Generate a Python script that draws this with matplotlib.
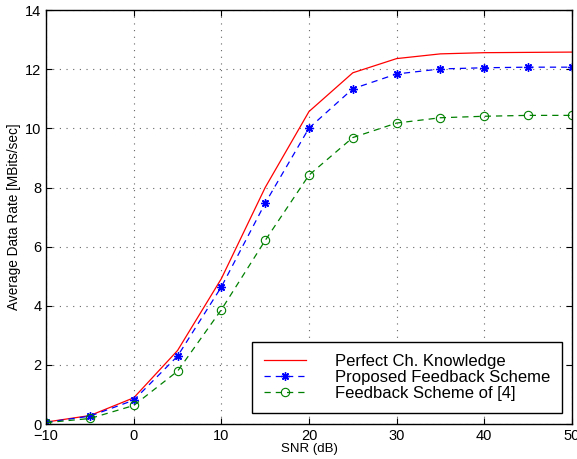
import matplotlib
matplotlib.use("Agg")
import matplotlib.pyplot as plt

plt.rcParams["font.family"] = ["Liberation Sans", "DejaVu Sans"]

# data
snr = [-10, -5, 0, 5, 10, 15, 20, 25, 30, 35, 40, 45, 50]
perfect = [0.07, 0.29, 0.89, 2.49, 4.92, 8.0, 10.57, 11.88, 12.36, 12.52, 12.56, 12.57, 12.58]
proposed = [0.06, 0.27, 0.81, 2.30, 4.64, 7.47, 10.01, 11.34, 11.84, 12.01, 12.05, 12.07, 12.07]
scheme4 = [0.05, 0.19, 0.63, 1.79, 3.87, 6.21, 8.42, 9.69, 10.18, 10.36, 10.41, 10.44, 10.44]
labels = ["Perfect Ch. Knowledge", "Proposed Feedback Scheme", "Feedback Scheme of [4]"]

fig = plt.figure(figsize=(5.77, 4.59), dpi=100)
ax = fig.add_axes([0.08, 0.076, 0.911, 0.902])

ax.plot(snr, perfect, c="#ff0000", linestyle="-", linewidth=0.9, label=labels[0])
ax.plot(snr, proposed, c="#0000ff", linestyle=(0, (5, 4)), linewidth=0.9,
        marker=(8, 2, 0), markersize=6, markeredgewidth=1.0, label=labels[1])
ax.plot(snr, scheme4, c="#008000", linestyle=(0, (5, 4)), linewidth=0.9,
        marker="o", markersize=6, markerfacecolor="none", markeredgewidth=0.8,
        label=labels[2])

ax.set_xlim(-10, 50)
ax.set_ylim(0, 14)
ax.set_xticks(range(-10, 51, 10))
ax.set_yticks(range(0, 15, 2))
ax.set_xticklabels(["\u221210", "0", "10", "20", "30", "40", "50"])
ax.tick_params(direction="in", top=True, right=True, labelsize=10.5, length=4, width=0.8)
ax.grid(True, linestyle=(0, (1, 5)), color="#666666", linewidth=0.8)
for s in ax.spines.values():
    s.set_linewidth(1.0)

ax.set_xlabel("SNR (dB)", fontsize=9.5, labelpad=0)
ax.set_ylabel("Average Data Rate [MBits/sec]", fontsize=9.8, labelpad=3)

leg = ax.legend(loc="lower left", bbox_to_anchor=(0.392, 0.027), fontsize=12,
                fancybox=False, framealpha=1, edgecolor="black",
                handlelength=2.5, handletextpad=1.75, borderpad=0.7,
                labelspacing=0.08, borderaxespad=0)
leg.get_frame().set_linewidth(1.0)

fig.savefig("out.png", dpi=100)
